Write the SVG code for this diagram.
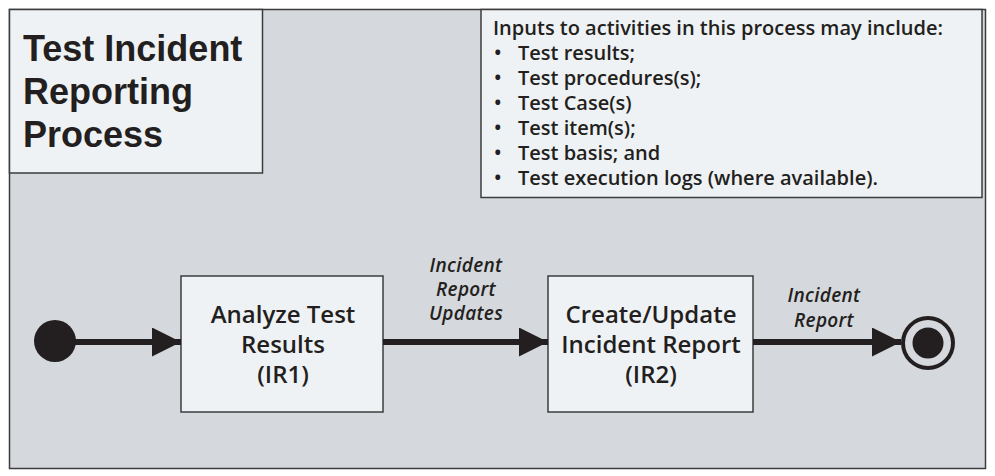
<svg xmlns="http://www.w3.org/2000/svg" width="995" height="476" viewBox="0 0 995 476">
<style>
.frame{fill:#d5d8dc;stroke:#3c3c3c;stroke-width:1.5}
.box{fill:#eff2f4;stroke:#3c3c3c;stroke-width:1.5}
.title{font-family:"Liberation Sans",Arial,sans-serif;font-weight:bold;font-size:36px;fill:#231f20}
.txt{font-family:"Open Sans","Noto Sans",sans-serif;font-weight:600;fill:#231f20}
.inp{font-size:20px}
.node{font-size:24px;text-anchor:middle}
.lbl{font-size:19px;font-style:italic;text-anchor:middle;letter-spacing:0.3px}
.conn{stroke:#231f20;stroke-width:6;fill:none}
.blk{fill:#231f20}
</style>
<defs>
<marker id="arr" viewBox="0 0 29 29" refX="29" refY="14.5" markerWidth="29" markerHeight="29" markerUnits="userSpaceOnUse" orient="auto">
<path d="M0,0 L29,14.5 L0,29 Z" fill="#231f20"/>
</marker>
</defs>
<rect class="frame" x="9.5" y="9.5" width="976" height="459"/>
<g id="title">
<rect class="box" x="9.5" y="9.5" width="253" height="163.5"/>
<text class="title" x="23" y="61">Test Incident</text>
<text class="title" x="23" y="104">Reporting</text>
<text class="title" x="23" y="147">Process</text>
</g>
<g id="inputs">
<rect class="box" x="481" y="9.5" width="501" height="188"/>
<text class="txt inp" x="493" y="35">Inputs to activities in this process may include:</text>
<g class="txt inp">
<text x="494" y="60">•</text><text x="518" y="60">Test results;</text>
<text x="494" y="85">•</text><text x="518" y="85">Test procedures(s);</text>
<text x="494" y="110">•</text><text x="518" y="110">Test Case(s)</text>
<text x="494" y="135">•</text><text x="518" y="135">Test item(s);</text>
<text x="494" y="160">•</text><text x="518" y="160">Test basis; and</text>
<text x="494" y="185">•</text><text x="518" y="185">Test execution logs (where available).</text>
</g>
</g>
<g id="start">
<circle class="blk" cx="55" cy="341" r="21"/>
</g>
<g id="IR1">
<rect class="box" x="181" y="276" width="202" height="136"/>
<text class="txt node" x="283" y="323">Analyze Test</text>
<text class="txt node" x="283" y="353">Results</text>
<text class="txt node" x="283" y="383">(IR1)</text>
</g>
<g id="IR2">
<rect class="box" x="548" y="276" width="205" height="136"/>
<text class="txt node" x="651" y="323">Create/Update</text>
<text class="txt node" x="651" y="353">Incident Report</text>
<text class="txt node" x="651" y="383">(IR2)</text>
</g>
<g id="end">
<circle cx="928" cy="343" r="25" fill="none" stroke="#231f20" stroke-width="4"/>
<circle class="blk" cx="928" cy="343" r="15.5"/>
</g>
<g id="connectors">
<line class="conn" x1="55" y1="342" x2="181" y2="342" marker-end="url(#arr)"/>
<line class="conn" x1="383" y1="342" x2="548" y2="342" marker-end="url(#arr)"/>
<line class="conn" x1="753" y1="342" x2="901" y2="342" marker-end="url(#arr)"/>
<text class="txt lbl" x="466" y="272">Incident</text>
<text class="txt lbl" x="466" y="296">Report</text>
<text class="txt lbl" x="466" y="320">Updates</text>
<text class="txt lbl" x="824" y="302">Incident</text>
<text class="txt lbl" x="824" y="327">Report</text>
</g>
</svg>
